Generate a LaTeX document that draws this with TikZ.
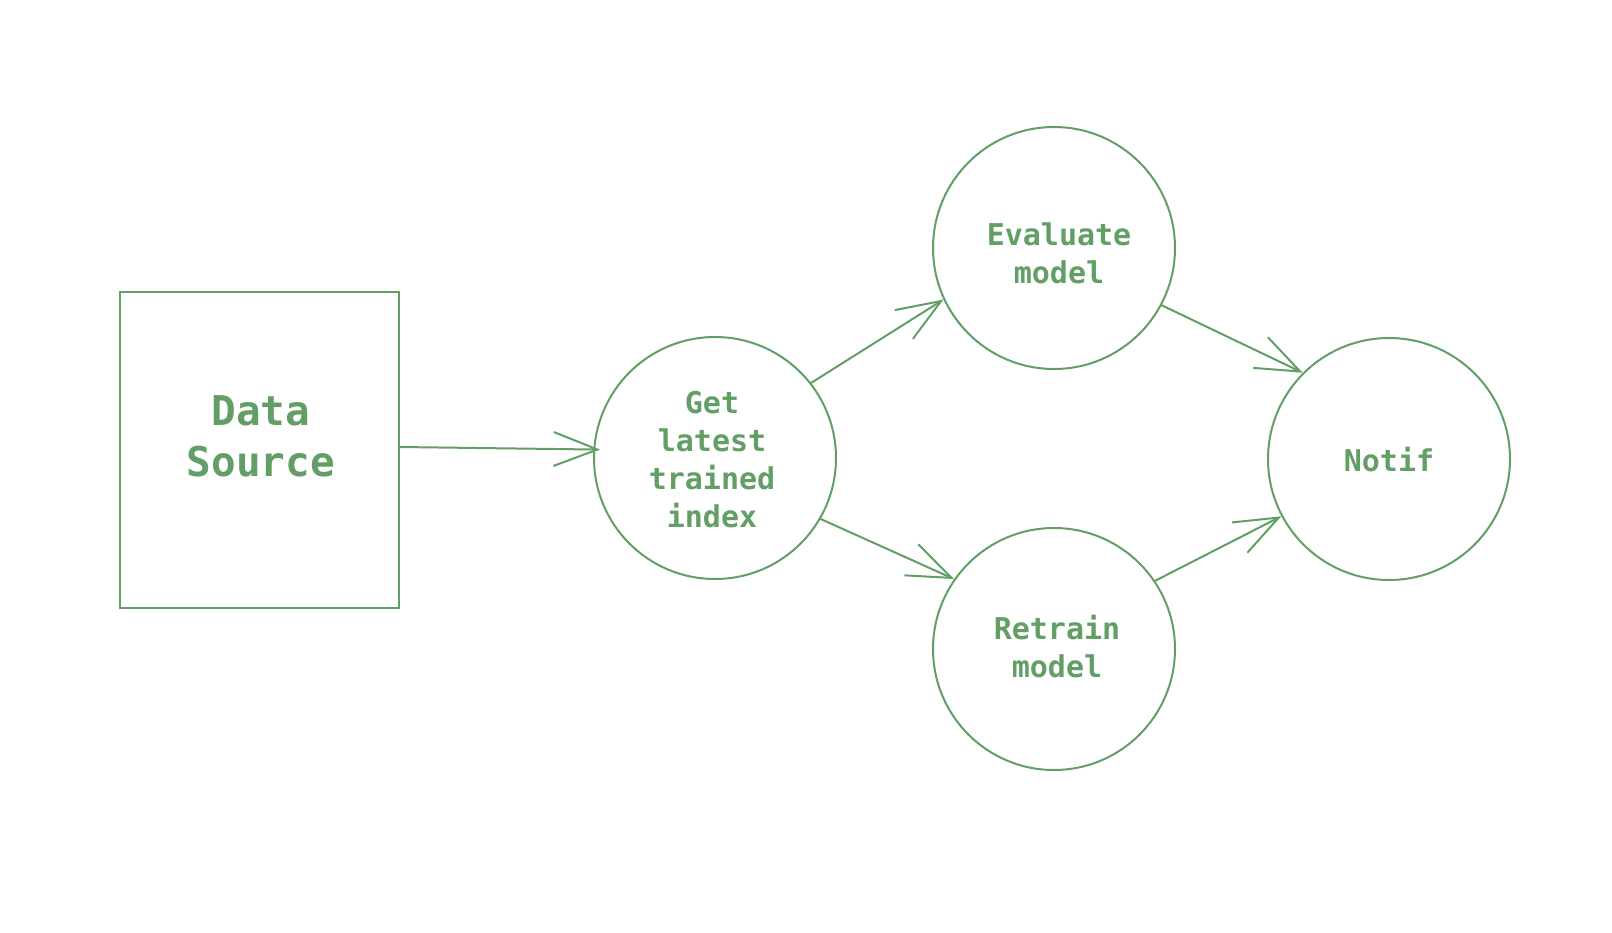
\documentclass[tikz,border=0pt]{standalone}
\usepackage{fontspec}
\setmonofont{DejaVu Sans Mono}
\usetikzlibrary{arrows.meta}
\definecolor{sk}{RGB}{98,158,101}
\begin{document}
\begin{tikzpicture}[x=1pt,y=-1pt,
  skshape/.style={draw=sk,line width=2pt,text=sk,font=\ttfamily\bfseries,align=center,inner sep=0pt},
  boxnode/.style={skshape,rectangle,minimum width=279pt,minimum height=316pt},
  circnode/.style={skshape,circle,minimum size=242pt},
  lbl/.style={text=sk,font=\ttfamily\bfseries,align=center,inner sep=0pt},
  conn/.style={draw=sk,line width=2pt,line cap=round,line join=round,
    -{Straight Barb[length=44pt,width=34pt,line width=2pt]}}]
\useasboundingbox (0,0) rectangle (1612,932);
\node[boxnode] (ds) at (259.5,450) {};
\node[lbl,font=\ttfamily\bfseries\fontsize{41}{51}\selectfont] (dst) at (261,436) {Data\\Source};
\node[circnode] (get) at (715,458) {};
\node[lbl,font=\ttfamily\bfseries\fontsize{30}{38}\selectfont] (gett) at (712,460) {Get\\latest\\trained\\index};
\node[circnode] (eval) at (1054,248) {};
\node[lbl,font=\ttfamily\bfseries\fontsize{30}{38}\selectfont] (evalt) at (1059,253) {Evaluate\\model};
\node[circnode] (ret) at (1054,649) {};
\node[lbl,font=\ttfamily\bfseries\fontsize{30}{38}\selectfont] (rett) at (1057,647) {Retrain\\model};
\node[circnode] (not) at (1389,459) {};
\node[lbl,font=\ttfamily\bfseries\fontsize{30}{38}\selectfont] (nott) at (1389,460) {Notif};
\draw[conn,shorten >=-7pt] (ds.east |- 0,447) -- (get.176);
\draw[conn] (get.38) -- (eval.205);
\draw[conn] (get.-30) -- (ret.145);
\draw[conn] (eval.-28) -- (not.135);
\draw[conn] (ret.34) -- (not.208);
\end{tikzpicture}
\end{document}
